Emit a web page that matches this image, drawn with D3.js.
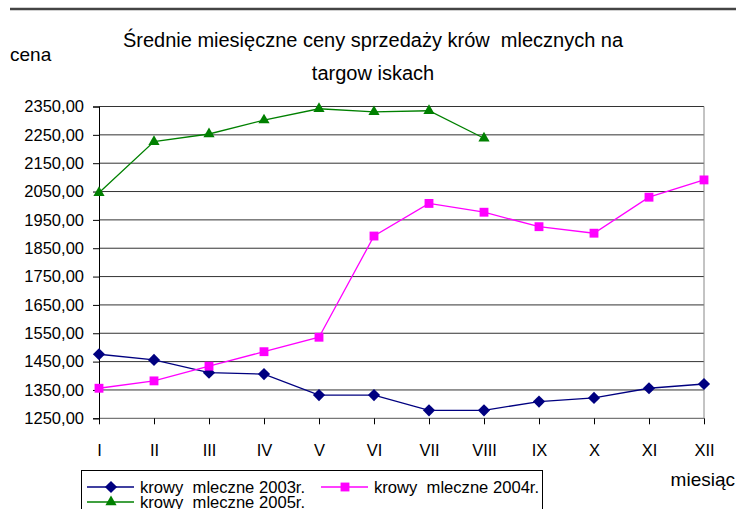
<!DOCTYPE html>
<html>
<head>
<meta charset="utf-8">
<script src="https://cdn.jsdelivr.net/npm/d3@7"></script>
<style>
  body { margin: 0; background: #fff; }
  svg { display: block; font-family: "Liberation Sans", Arial, sans-serif; }
  svg text { white-space: pre; }
</style>
</head>
<body>
<div class="chart"></div>
<script>
const months = ['I', 'II', 'III', 'IV', 'V', 'VI', 'VII', 'VIII', 'IX', 'X', 'XI', 'XII']
const yTicks = [1250, 1350, 1450, 1550, 1650, 1750, 1850, 1950, 2050, 2150, 2250, 2350]

const cows2003 = [1476, 1456, 1411, 1406, 1332, 1332, 1278, 1278, 1309, 1322, 1356, 1371]
const cows2004 = [1356, 1382, 1434, 1485, 1536, 1893, 2008, 1977, 1926, 1903, 2030, 2091]
const cows2005 = [2046, 2226, 2253, 2302, 2342, 2331, 2335, 2238]

const seriesNames = ['krowy  mleczne 2003r.', 'krowy  mleczne 2004r.', 'krowy  mleczne 2005r.']

const width = 736, height = 509
const plot = { left: 99, right: 704, top: 106.5, bottom: 418.3 }

const svg = d3.select('.chart')
.append('svg')
.attr('width', width)
.attr('height', height)

const x = d3.scalePoint()
.domain(months)
.range([plot.left, plot.right])

const y = d3.scaleLinear()
.domain([1250, 2350])
.range([plot.bottom, plot.top])

const fmt = d3.formatLocale({ decimal: ',', thousands: ' ', grouping: [3], currency: ['', ''] }).format('.2f')

// top rule
svg.append('line')
.attr('x1', 10).attr('x2', width)
.attr('y1', 9).attr('y2', 9)
.attr('stroke', '#444').attr('stroke-width', 2.5)

// titles
svg.append('text')
.attr('x', 373).attr('y', 47)
.attr('text-anchor', 'middle')
.attr('font-size', 20)
.text('Średnie miesięczne ceny sprzedaży krów  mlecznych na')

svg.append('text')
.attr('x', 373).attr('y', 80)
.attr('text-anchor', 'middle')
.attr('font-size', 20)
.text('targow iskach')

svg.append('text')
.attr('x', 10).attr('y', 61)
.attr('font-size', 19)
.text('cena')

svg.append('text')
.attr('x', 735).attr('y', 486)
.attr('text-anchor', 'end')
.attr('font-size', 19)
.text('miesiąc')

// gridlines + frame
svg.append('g')
.selectAll('line')
.data(yTicks)
.join('line')
.attr('x1', plot.left).attr('x2', plot.right)
.attr('y1', d => y(d)).attr('y2', d => y(d))
.attr('stroke', d => d === 1250 ? '#555' : '#333')
.attr('stroke-width', 1)

svg.append('line')
.attr('x1', plot.right).attr('x2', plot.right)
.attr('y1', plot.top).attr('y2', plot.bottom)
.attr('stroke', '#888')

// y axis
const yAxis = svg.append('g')
.attr('transform', `translate(${plot.left},0)`)
.call(d3.axisLeft(y).tickValues(yTicks).tickFormat(fmt).tickSize(6).tickPadding(9))

yAxis.select('.domain').attr('stroke', '#000')
yAxis.selectAll('.tick line').attr('stroke', '#000')
yAxis.selectAll('text')
.attr('font-size', 16.5)
.attr('fill', '#000')
.attr('font-family', '"Liberation Sans", Arial, sans-serif')

// x axis
const xAxis = svg.append('g')
.attr('transform', `translate(0,${plot.bottom})`)
.call(d3.axisBottom(x).tickSize(6).tickPadding(20).tickSizeOuter(0))

xAxis.select('.domain').remove()
xAxis.selectAll('.tick line').attr('stroke', '#000')
xAxis.selectAll('text')
.attr('font-size', 16.5)
.attr('fill', '#000')
.attr('font-family', '"Liberation Sans", Arial, sans-serif')

// series
const series = [
	{ name: seriesNames[0], values: cows2003, color: '#000080', shape: d3.symbolDiamond2, size: 95 },
	{ name: seriesNames[1], values: cows2004, color: '#ff00ff', shape: d3.symbolSquare2, size: 100 },
	{ name: seriesNames[2], values: cows2005, color: '#008000', shape: d3.symbolTriangle2, size: 90 }
]

const line = d3.line()
.x((d, i) => x(months[i]))
.y(d => y(d))

series.forEach(s => {
	const g = svg.append('g')

	g.append('path')
	.datum(s.values)
	.attr('d', line)
	.attr('fill', 'none')
	.attr('stroke', s.color)
	.attr('stroke-width', 1.3)

	g.selectAll('path.mark')
	.data(s.values)
	.join('path')
	.attr('class', 'mark')
	.attr('transform', (d, i) => `translate(${x(months[i])},${y(d)})`)
	.attr('d', d3.symbol().type(s.shape).size(s.size))
	.attr('fill', s.color)
})

// legend
const legend = svg.append('g')

legend.append('rect')
.attr('x', 81.5).attr('y', 470.5)
.attr('width', 461).attr('height', 60)
.attr('fill', 'none')
.attr('stroke', '#000')

const legendPos = [[87, 487], [321, 487], [87, 502]]

series.forEach((s, i) => {
	const [lx, ly] = legendPos[i]
	const item = legend.append('g').attr('transform', `translate(${lx},${ly})`)
	item.append('line')
	.attr('x1', 0).attr('x2', 47)
	.attr('stroke', s.color).attr('stroke-width', 1.3)
	item.append('path')
	.attr('transform', 'translate(24,0)')
	.attr('d', d3.symbol().type(s.shape).size(s.size))
	.attr('fill', s.color)
	item.append('text')
	.attr('x', 53).attr('y', 6)
	.attr('font-size', 16.6)
	.text(s.name)
})
</script>
</body>
</html>
